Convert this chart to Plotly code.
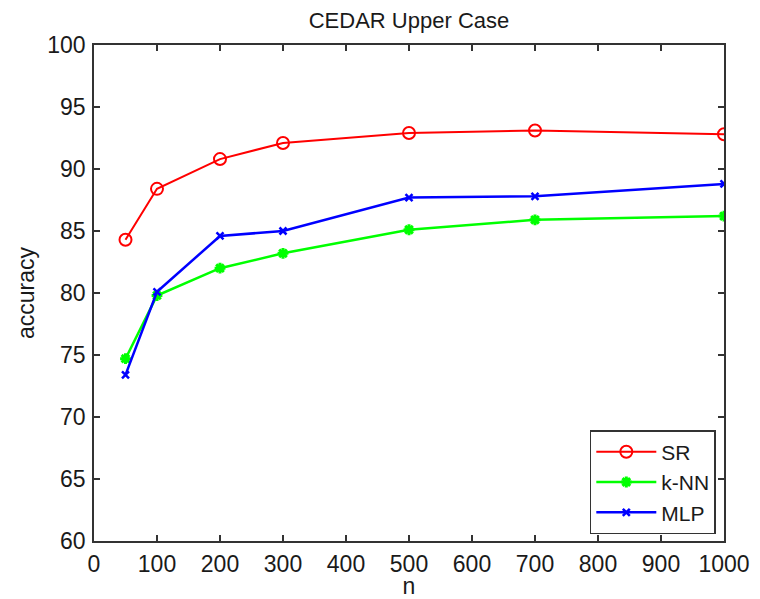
import plotly.graph_objects as go

n = [50, 100, 200, 300, 500, 700, 1000]
sr = [84.3, 88.4, 90.8, 92.1, 92.9, 93.1, 92.8]
knn = [74.7, 79.8, 82.0, 83.2, 85.1, 85.9, 86.2]
mlp = [73.4, 80.1, 84.6, 85.0, 87.7, 87.8, 88.8]
xticks = [0, 100, 200, 300, 400, 500, 600, 700, 800, 900, 1000]
yticks = [60, 65, 70, 75, 80, 85, 90, 95, 100]

FONT = "Liberation Sans, Arial"
TXT = "#1a1a1a"

fig = go.Figure()
fig.add_trace(go.Scatter(x=n, y=sr, name="SR", mode="lines+markers",
                         line=dict(color="#ff0000", width=2),
                         marker=dict(symbol="circle-open", size=12, color="#ff0000", line=dict(width=2))))
fig.add_trace(go.Scatter(x=n, y=knn, name="k-NN", mode="lines+markers",
                         line=dict(color="#00ff00", width=2.5),
                         marker=dict(symbol="asterisk-open", size=9, color="#00ff00", line=dict(width=3, color="#00ff00"))))
fig.add_trace(go.Scatter(x=n, y=mlp, name="MLP", mode="lines+markers",
                         line=dict(color="#0000ff", width=2.5),
                         marker=dict(symbol="x-thin-open", size=7, color="#0000ff", line=dict(width=2.5, color="#0000ff"))))

axis_common = dict(showline=True, linecolor="#333333", linewidth=1.5, mirror="ticks",
                   ticks="inside", ticklen=6, tickcolor="#333333", tickwidth=1.5,
                   showgrid=False, zeroline=False, automargin=False,
                   tickfont=dict(family=FONT, size=23, color=TXT))
fig.update_xaxes(range=[0, 1000], tickvals=xticks, ticklabelstandoff=2,
                 title=dict(text="n", font=dict(family=FONT, size=23, color=TXT), standoff=4), **axis_common)
fig.update_yaxes(range=[60, 100], tickvals=yticks, ticklabelstandoff=2,
                 title=dict(text="accuracy", font=dict(family=FONT, size=23, color=TXT), standoff=6), **axis_common)

fig.update_layout(
    width=752, height=591,
    margin=dict(l=86, r=36, t=37, b=58, autoexpand=False),
    paper_bgcolor="white", plot_bgcolor="white",
    title=dict(text="CEDAR Upper Case", x=0.5, xref="paper", xanchor="center", y=1 - 12/591, yanchor="middle",
               font=dict(family=FONT, size=22, color=TXT)),
    legend=dict(x=0.987, y=0.014, xanchor="right", yanchor="bottom", bordercolor="#333333", borderwidth=1.5,
                bgcolor="white", font=dict(family=FONT, size=21, color=TXT),
                itemwidth=60, tracegroupgap=0),
    showlegend=True,
)
fig.write_html("out.html")
